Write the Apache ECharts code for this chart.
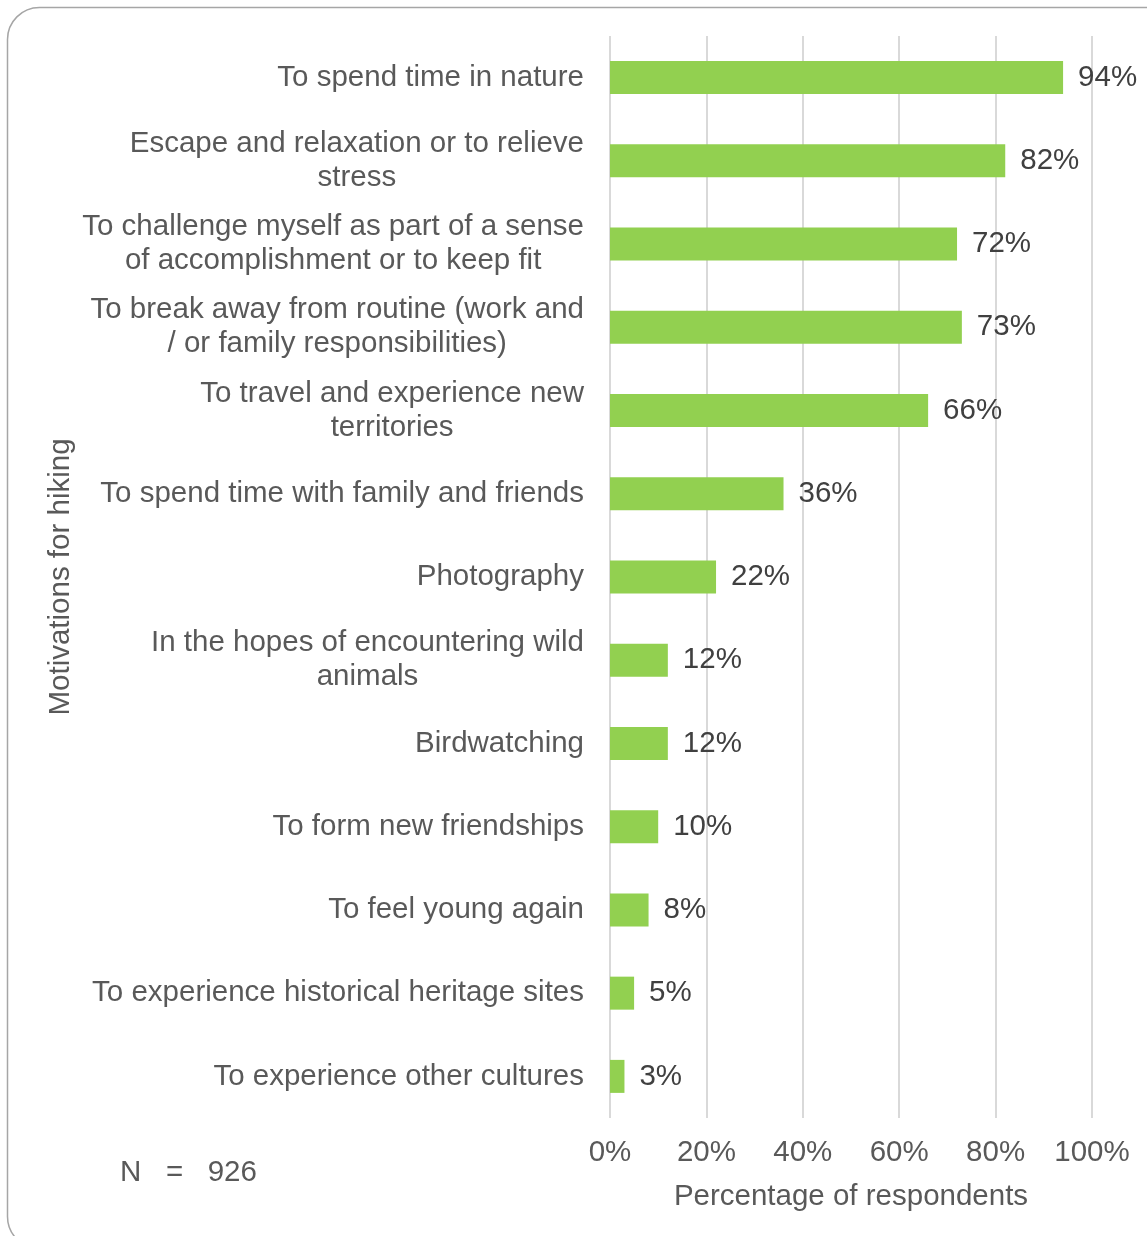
<!DOCTYPE html>
<html>
<head>
<meta charset="utf-8">
<script src="https://cdn.jsdelivr.net/npm/echarts@6/dist/echarts.min.js"></script>
<style>
  html, body { margin: 0; padding: 0; background: #ffffff; }
  #chart { width: 1147px; height: 1236px; }
</style>
</head>
<body>
<div id="chart"></div>
<script>
// Motivations for hiking, share of respondents (%)
const categories = [
  'To spend time in nature',
  'Escape and relaxation or to relieve\nstress',
  'To challenge myself as part of a sense\nof accomplishment or to keep fit',
  'To break away from routine (work and\n/ or family responsibilities)',
  'To travel and experience new\nterritories',
  'To spend time with family and friends',
  'Photography',
  'In the hopes of encountering wild\nanimals',
  'Birdwatching',
  'To form new friendships',
  'To feel young again',
  'To experience historical heritage sites',
  'To experience other cultures'
];
const shares = [94, 82, 72, 73, 66, 36, 22, 12, 12, 10, 8, 5, 3];
const xTicks = [0, 20, 40, 60, 80, 100];
const sampleNote = 'N   =   926';

const textColor = '#595959';
const font = 'Arial, "Liberation Sans", sans-serif';
const fs = 29.5;

const chart = echarts.init(document.getElementById('chart'), null, { renderer: 'canvas' });
chart.setOption({
  backgroundColor: '#ffffff',
  animation: false,
  graphic: [
    {
      type: 'rect',
      shape: { x: 7.5, y: 7.5, width: 1220, height: 1241, r: 32 },
      style: { fill: 'none', stroke: '#a6a6a6', lineWidth: 1.5 },
      z: -10
    },
    {
      type: 'text',
      left: 120, top: 1158,
      style: { text: sampleNote, fill: textColor, font: fs + 'px ' + font }
    }
  ],
  grid: { left: 610, right: 55, top: 36, bottom: 118, containLabel: false },
  xAxis: {
    type: 'value',
    min: xTicks[0],
    max: xTicks[xTicks.length - 1],
    interval: 20,
    name: 'Percentage of respondents',
    nameLocation: 'middle',
    nameGap: 64,
    nameTextStyle: { color: textColor, fontSize: fs, fontFamily: font },
    axisLine: { show: false },
    axisTick: { show: false },
    axisLabel: { color: textColor, fontSize: fs, fontFamily: font, margin: 20, formatter: v => v + '%' },
    splitLine: { lineStyle: { color: '#d9d9d9', width: 2 } }
  },
  yAxis: {
    type: 'category',
    data: categories,
    inverse: true,
    name: 'Motivations for hiking',
    nameLocation: 'middle',
    nameGap: 534,
    nameRotate: 90,
    nameTextStyle: { color: textColor, fontSize: fs, fontFamily: font },
    axisLine: { show: false },
    axisTick: { show: false },
    axisLabel: {
      color: textColor, fontSize: fs, fontFamily: font, margin: 26,
      align: 'right', lineHeight: 34,
      // wrapped labels: block sits against the axis, lines centred within it
      formatter: v => v.split('\n').map(s => '{c|' + s + '}').join('\n'),
      rich: {
        c: { align: 'center', color: textColor, fontSize: fs, fontFamily: font, lineHeight: 34 }
      }
    },
    splitLine: { show: false }
  },
  series: [{
    type: 'bar',
    data: shares,
    barWidth: 33,
    itemStyle: { color: '#92d050' },
    label: {
      show: true,
      position: 'right',
      distance: 15,
      color: '#404040',
      fontSize: fs,
      fontFamily: font,
      formatter: p => p.value + '%'
    }
  }]
});
</script>
</body>
</html>
